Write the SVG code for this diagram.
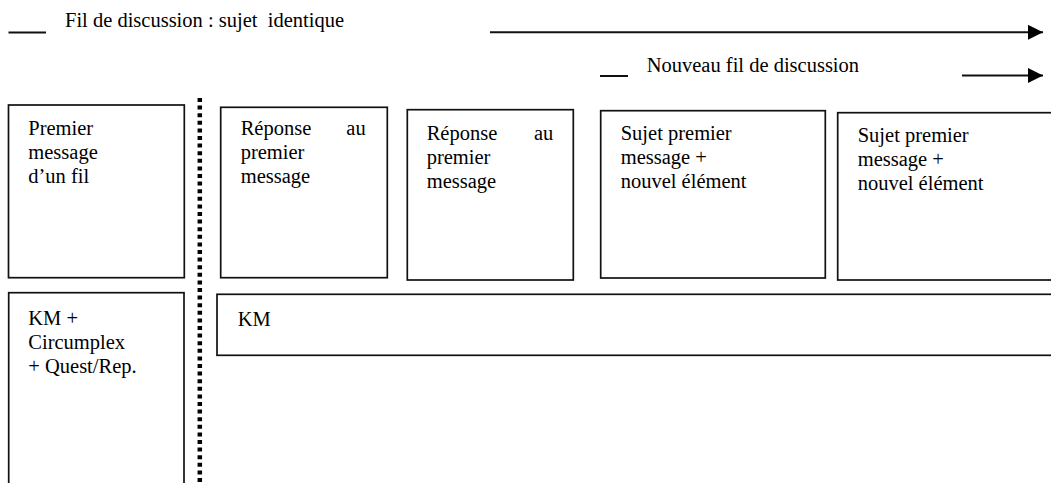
<svg xmlns="http://www.w3.org/2000/svg" width="1051" height="483" viewBox="0 0 1051 483">
<style>
  text { font-family: 'Liberation Serif', 'DejaVu Serif', serif; font-size: 20.5px; fill: #000; white-space: pre; }
  .box { fill: #fff; stroke: #111; stroke-width: 1.7; }
  .line { stroke: #111; stroke-width: 2; fill: none; }
  .dots { stroke: #000; stroke-width: 4.5; stroke-dasharray: 4 3.6; fill: none; }
</style>
<defs>
  <marker id="arrow" viewBox="0 0 15 15" refX="15" refY="7.5" markerWidth="15" markerHeight="15" markerUnits="userSpaceOnUse" orient="auto">
    <path d="M0,0 L15,7.5 L0,15 Z" fill="#000"/>
  </marker>
</defs>

<g id="legend">
  <line class="line" x1="8.5" y1="32.5" x2="46" y2="32.5"/>
  <text x="65" y="26.7" xml:space="preserve">Fil de discussion : sujet  identique</text>
  <line class="line" x1="600" y1="76" x2="628" y2="76"/>
  <text x="646.7" y="71.7">Nouveau fil de discussion</text>
</g>

<g id="connectors">
  <line class="line" x1="490" y1="32.3" x2="1043" y2="32.3" marker-end="url(#arrow)"/>
  <line class="line" x1="962" y1="75.5" x2="1043" y2="75.5" marker-end="url(#arrow)"/>
  <line class="dots" x1="199.8" y1="98" x2="199.8" y2="490"/>
</g>

<g id="node-premier">
  <rect class="box" x="8.5" y="105" width="175.8" height="172.7"/>
  <text x="28.3" y="134.5">Premier</text>
  <text x="28.3" y="158.5">message</text>
  <text x="28.3" y="182.5">d’un fil</text>
</g>

<g id="node-reponse1">
  <rect class="box" x="220.7" y="107.3" width="166.6" height="170.4"/>
  <text x="240.7" y="134.5">Réponse</text>
  <text x="365.7" y="134.5" text-anchor="end">au</text>
  <text x="240.7" y="158.5">premier</text>
  <text x="240.7" y="182.5">message</text>
</g>

<g id="node-reponse2">
  <rect class="box" x="407.3" y="109.7" width="166" height="170.3"/>
  <text x="426.7" y="139.5">Réponse</text>
  <text x="553.3" y="139.5" text-anchor="end">au</text>
  <text x="426.7" y="163.5">premier</text>
  <text x="426.7" y="187.5">message</text>
</g>

<g id="node-sujet1">
  <rect class="box" x="600.7" y="110.7" width="224.6" height="167.3"/>
  <text x="620.7" y="139.5">Sujet premier</text>
  <text x="620.7" y="163.5">message +</text>
  <text x="620.7" y="187.5">nouvel élément</text>
</g>

<g id="node-sujet2">
  <rect class="box" x="837.7" y="112.7" width="230" height="167.3"/>
  <text x="857.7" y="141.5">Sujet premier</text>
  <text x="857.7" y="165.5">message +</text>
  <text x="857.7" y="189.5">nouvel élément</text>
</g>

<g id="node-km-circumplex">
  <rect class="box" x="8.7" y="292.7" width="175.3" height="210"/>
  <text x="28.3" y="325">KM +</text>
  <text x="28.3" y="349">Circumplex</text>
  <text x="28.3" y="373">+ Quest/Rep.</text>
</g>

<g id="node-km">
  <rect class="box" x="217" y="294.3" width="850" height="61"/>
  <text x="237.7" y="326">KM</text>
</g>
</svg>
